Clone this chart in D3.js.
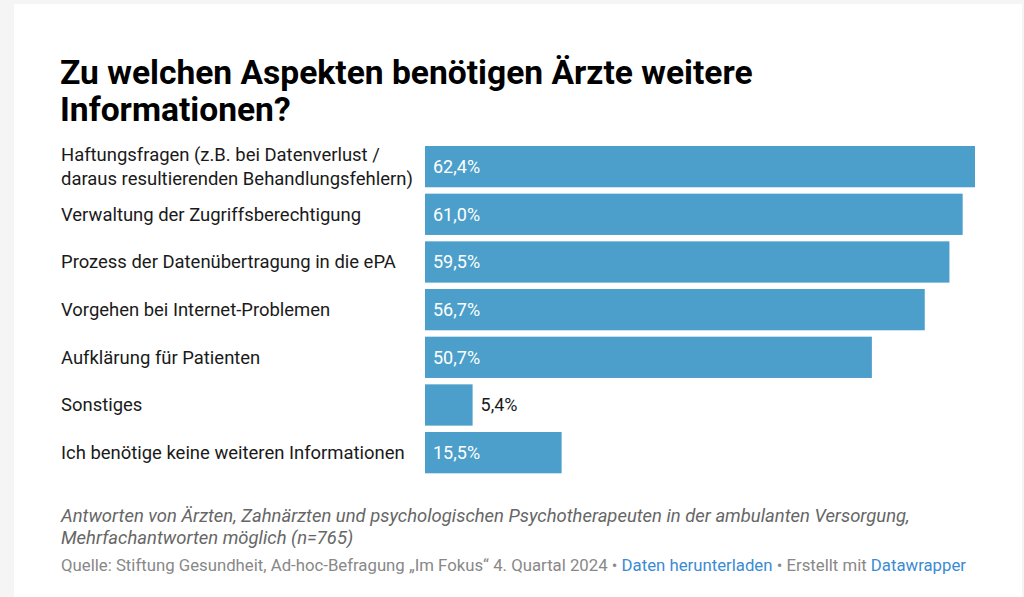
<!DOCTYPE html>
<html><head><meta charset="utf-8">
<script src="https://cdn.jsdelivr.net/npm/d3@7"></script>
<style>
html,body{margin:0;padding:0;background:#f5f5f5;}
svg{display:block;}
</style></head>
<body>
<svg id="c" width="1024" height="597"></svg>
<script>
const categories = [
  ["Haftungsfragen (z.B. bei Datenverlust /", "daraus resultierenden Behandlungsfehlern)"],
  ["Verwaltung der Zugriffsberechtigung"],
  ["Prozess der Datenübertragung in die ePA"],
  ["Vorgehen bei Internet-Problemen"],
  ["Aufklärung für Patienten"],
  ["Sonstiges"],
  ["Ich benötige keine weiteren Informationen"]
];
const values = [62.4, 61.0, 59.5, 56.7, 50.7, 5.4, 15.5];
const titleLines = ["Zu welchen Aspekten benötigen Ärzte weitere", "Informationen?"];
const noteLines = ["Antworten von Ärzten, Zahnärzten und psychologischen Psychotherapeuten in der ambulanten Versorgung,", "Mehrfachantworten möglich (n=765)"];
const sourceParts = [
  ["Quelle: Stiftung Gesundheit, Ad-hoc-Befragung „Im Fokus“ 4. Quartal 2024 • ", false],
  ["Daten herunterladen", true],
  [" • Erstellt mit ", false],
  ["Datawrapper", true]
];

const svg = d3.select("#c");
const font = "Roboto, 'Noto Sans', sans-serif";
svg.append("rect").attr("x", 14).attr("y", 4).attr("width", 1008).attr("height", 600).attr("fill", "#fff");

const title = svg.append("text").attr("font-family", font).attr("font-weight", 700)
  .attr("font-size", 33.6).attr("fill", "#000");
titleLines.forEach((t, i) => title.append("tspan").attr("x", 60).attr("y", 83.5 + i * 37).text(t));

const idx = d3.range(values.length);
const y = d3.scaleBand().domain(idx).range([146, 473.3]).paddingInner(0.134).paddingOuter(0);
const x = d3.scaleLinear().domain([0, 62.4]).range([425, 975]);

svg.append("g").selectAll("rect").data(idx).join("rect")
  .attr("x", x(0)).attr("y", i => y(i)).attr("width", i => x(values[i]) - x(0))
  .attr("height", y.bandwidth()).attr("fill", "#4b9fca");

const lab = svg.append("g").attr("font-family", font).attr("font-size", 18.45).attr("fill", "#1a1a1a");
idx.forEach(i => {
  const lines = categories[i];
  const cy = y(i) + y.bandwidth() / 2;
  const t = lab.append("text");
  lines.forEach((l, k) => {
    t.append("tspan").attr("x", 61)
      .attr("y", cy + (k - (lines.length - 1) / 2) * 24 + 6.5).text(l);
  });
});

const fmt = v => d3.format(".1f")(v).replace(".", ",") + "%";
svg.append("g").attr("font-family", font).attr("font-size", 18)
  .selectAll("text").data(idx).join("text")
  .attr("x", i => (x(values[i]) - x(0) > 60) ? x(0) + 8 : x(values[i]) + 8)
  .attr("y", i => y(i) + y.bandwidth() / 2 + 6.3)
  .attr("fill", i => (x(values[i]) - x(0) > 60) ? "#fff" : "#1a1a1a")
  .text(i => fmt(values[i]));

const note = svg.append("text").attr("font-family", font).attr("font-style", "italic")
  .attr("font-size", 18.45).attr("fill", "#666");
noteLines.forEach((t, i) => note.append("tspan").attr("x", 61).attr("y", 522 + i * 21.5).text(t));

const src = svg.append("text").attr("font-family", font).attr("font-size", 16.75)
  .attr("x", 61).attr("y", 571);
sourceParts.forEach(([t, link]) => src.append("tspan").attr("fill", link ? "#3a8bd4" : "#888").text(t));
</script>
</body></html>
